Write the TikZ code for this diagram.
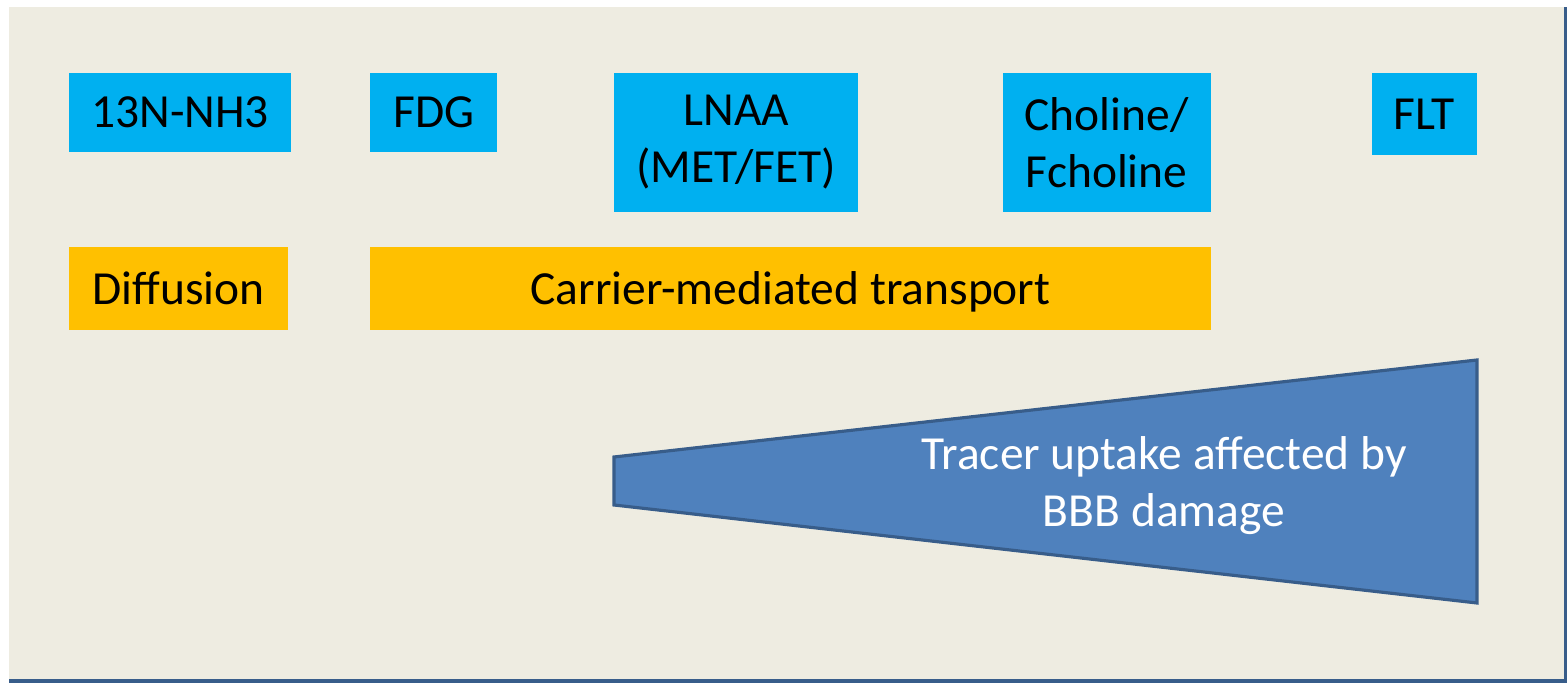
\documentclass[tikz,border=0pt]{standalone}
\usepackage{fontspec}
\setmainfont{Carlito}
\usepackage{xcolor}
\usetikzlibrary{positioning}

\definecolor{panelbg}{HTML}{EEECE1}
\definecolor{tracerblue}{HTML}{00B0F0}
\definecolor{routeorange}{HTML}{FFC000}
\definecolor{wedgefill}{HTML}{4F81BD}
\definecolor{wedgeline}{HTML}{385D8A}

\begin{document}
\begin{tikzpicture}[
    x=0.01cm, y=-0.01cm,
    tracer/.style={fill=tracerblue, inner sep=0pt, outer sep=0pt, align=center, anchor=north west, minimum height=0.79cm},
    route/.style={fill=routeorange, inner sep=0pt, outer sep=0pt, text depth=0pt, anchor=north west, minimum height=0.83cm},
    font=\fontsize{13.5}{16.2}\selectfont
]
% slide panel
\useasboundingbox (0,0) rectangle (1567,683);
\fill[white] (0,0) rectangle (1567,683);
\fill[panelbg] (9,7) rectangle (1567,683);
\fill[wedgeline] (1564,7) rectangle (1567,683);
\fill[wedgeline] (9,679) rectangle (1567,683);

% tracers
\node[tracer, minimum width=2.22cm] (nh3) at (69,73) {13N-NH3};
\node[tracer, minimum width=1.27cm, right=0.79cm of nh3.north east, anchor=north west] (fdg) {FDG};
\node[tracer, minimum width=2.44cm, minimum height=1.39cm, right=1.17cm of fdg.north east, anchor=north west] (lnaa) {LNAA\\(MET/FET)};
\node[tracer, minimum width=2.08cm, minimum height=1.39cm, right=1.44cm of lnaa.north east, anchor=north west] (chol) {Choline/\\Fcholine};
\node[tracer, minimum width=1.05cm, minimum height=0.82cm, right=1.61cm of chol.north east, anchor=north west] (flt) {FLT};

% transport mechanisms
\node[route, minimum width=2.19cm] (diff) at (69,247) {Diffusion};
\node[route, minimum width=8.40cm, right=0.82cm of diff.north east, anchor=north west] (carrier) {Carrier-mediated transport};

% BBB wedge
\coordinate (wedge-nw) at (614,457);
\coordinate (wedge-ne) at (1477,360);
\coordinate (wedge-se) at (1477,603);
\coordinate (wedge-sw) at (614,505);
\filldraw[fill=wedgefill, draw=wedgeline, line width=0.9pt, line join=miter]
    (wedge-nw) -- (wedge-ne) -- (wedge-se) -- (wedge-sw) -- cycle;
\node[text=white, align=center] (bbb) at (1164,486) {Tracer uptake affected by\\BBB damage};

\end{tikzpicture}
\end{document}
